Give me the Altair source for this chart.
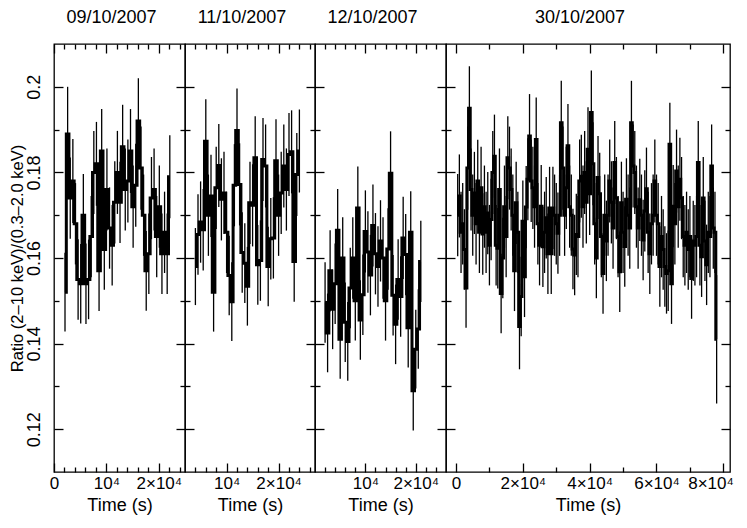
import altair as alt
import pandas as pd

FONT = "Liberation Sans"
FS = 18
FS_X = 17

panel_titles = ["09/10/2007", "11/10/2007", "12/10/2007", "30/10/2007"]
y_title = "Ratio (2\u201310 keV)/(0.3\u20132.0 keV)"
x_title = "Time (s)"

# bin start (s) and bin width (s) of each light curve
starts = [2100, 4000, 2000, 500]
bin_width = 500

vals1 = [0.152, 0.189, 0.174, 0.178, 0.168, 0.155, 0.154, 0.170, 0.154, 0.155,
         0.165, 0.180, 0.182, 0.157, 0.185, 0.162, 0.176, 0.167, 0.163, 0.173,
         0.180, 0.173, 0.186, 0.176, 0.178, 0.185, 0.172, 0.177, 0.192, 0.181,
         0.170, 0.157, 0.161, 0.174, 0.176, 0.165, 0.172, 0.161, 0.166, 0.161,
         0.179]
errs1 = [0.0092, 0.011, 0.0095, 0.0098, 0.0095, 0.0094, 0.0093, 0.0096, 0.0094, 0.0093,
         0.0095, 0.0097, 0.0098, 0.0094, 0.0098, 0.0094, 0.0096, 0.0095, 0.0094, 0.0096,
         0.0097, 0.0095, 0.0098, 0.0096, 0.0097, 0.0098, 0.0096, 0.0097, 0.0100, 0.0097,
         0.0095, 0.0093, 0.0094, 0.0096, 0.0096, 0.0095, 0.0096, 0.0094, 0.0095, 0.0094,
         0.0097]

vals2 = [0.158, 0.1655, 0.1684, 0.1666, 0.1873, 0.170, 0.1745, 0.152, 0.1764, 0.1816,
         0.1737, 0.1752, 0.166, 0.1559, 0.1498, 0.177, 0.1898, 0.1772, 0.1613, 0.1588,
         0.1534, 0.1729, 0.1723, 0.1834, 0.1584, 0.1594, 0.183, 0.1815, 0.158, 0.1645,
         0.1647, 0.1827, 0.170, 0.1752, 0.1815, 0.176, 0.1842, 0.1848, 0.1592, 0.1795,
         0.185]
errs2 = [0.0090, 0.0094, 0.0095, 0.0095, 0.0098, 0.0095, 0.0096, 0.0092, 0.0096, 0.0097,
         0.0096, 0.0096, 0.0095, 0.0093, 0.0092, 0.0096, 0.0098, 0.0096, 0.0094, 0.0093,
         0.0092, 0.0096, 0.0096, 0.0097, 0.0093, 0.0094, 0.0097, 0.0097, 0.0093, 0.0095,
         0.0095, 0.0097, 0.0095, 0.0096, 0.0097, 0.0096, 0.0097, 0.0097, 0.0094, 0.0097,
         0.0097]

vals3 = [0.1496, 0.1425, 0.157, 0.148, 0.154, 0.1665, 0.141, 0.160, 0.145, 0.1405,
         0.153, 0.160, 0.150, 0.1717, 0.1455, 0.1514, 0.1662, 0.1614, 0.156, 0.1676,
         0.161, 0.158, 0.164, 0.160, 0.150, 0.1621, 0.1798, 0.1513, 0.1445, 0.155,
         0.151, 0.1647, 0.1608, 0.1437, 0.166, 0.129, 0.1387, 0.1434, 0.1592]
errs3 = [0.0094, 0.0092, 0.0095, 0.0093, 0.0094, 0.0096, 0.0092, 0.0095, 0.0093, 0.0092,
         0.0094, 0.0095, 0.0093, 0.0097, 0.0093, 0.0094, 0.0096, 0.0095, 0.0094, 0.0096,
         0.0095, 0.0094, 0.0095, 0.0095, 0.0093, 0.0095, 0.0098, 0.0094, 0.0093, 0.0094,
         0.0094, 0.0096, 0.0095, 0.0093, 0.0096, 0.0093, 0.0092, 0.0093, 0.0095]

vals4 = [0.170, 0.1745, 0.166, 0.168, 0.162, 0.153, 0.181, 0.195, 0.176, 0.170,
         0.1752, 0.168, 0.178, 0.166, 0.1764, 0.1656, 0.172, 0.166, 0.1705, 0.163,
         0.169, 0.180, 0.1838, 0.163, 0.1623, 0.176, 0.1517, 0.160, 0.172, 0.165,
         0.1834, 0.181, 0.176, 0.170, 0.157, 0.1729, 0.166, 0.144, 0.151, 0.1686,
         0.1556, 0.1719, 0.1784, 0.1885, 0.178, 0.1764, 0.172, 0.1877, 0.168, 0.163,
         0.1721, 0.1626, 0.166, 0.1694, 0.161, 0.1717, 0.161, 0.1717, 0.170, 0.168,
         0.1658, 0.170, 0.1916, 0.181, 0.170, 0.1764, 0.1862, 0.172, 0.170, 0.1621,
         0.1607, 0.1655, 0.165, 0.178, 0.1791, 0.172, 0.180, 0.173, 0.1854, 0.175,
         0.194, 0.182, 0.168, 0.160, 0.1788, 0.175, 0.165, 0.1564, 0.170, 0.164,
         0.170, 0.178, 0.173, 0.167, 0.1823, 0.174, 0.165, 0.1568, 0.1729, 0.166,
         0.1627, 0.1737, 0.170, 0.167, 0.1916, 0.1815, 0.180, 0.172, 0.167, 0.1736,
         0.170, 0.1642, 0.171, 0.1762, 0.166, 0.161, 0.168, 0.170, 0.178, 0.170,
         0.168, 0.158, 0.165, 0.162, 0.158, 0.1564, 0.157, 0.1866, 0.154, 0.1721,
         0.168, 0.1803, 0.172, 0.1784, 0.174, 0.165, 0.163, 0.166, 0.162, 0.165,
         0.1552, 0.164, 0.163, 0.165, 0.1823, 0.163, 0.1603, 0.174, 0.164, 0.1584,
         0.166, 0.165, 0.1815, 0.167, 0.166, 0.141]
errs4 = [0.0096, 0.0097, 0.0095, 0.0095, 0.0094, 0.0093, 0.0097, 0.0098, 0.0096, 0.0095,
         0.0096, 0.0095, 0.0096, 0.0095, 0.0096, 0.0095, 0.0096, 0.0095, 0.0096, 0.0094,
         0.0095, 0.0097, 0.0097, 0.0094, 0.0094, 0.0096, 0.0093, 0.0094, 0.0096, 0.0095,
         0.0097, 0.0097, 0.0096, 0.0095, 0.0094, 0.0096, 0.0095, 0.0100, 0.0093, 0.0095,
         0.0094, 0.0096, 0.0096, 0.0098, 0.0096, 0.0096, 0.0096, 0.0098, 0.0095, 0.0094,
         0.0096, 0.0094, 0.0095, 0.0095, 0.0094, 0.0096, 0.0094, 0.0096, 0.0095, 0.0095,
         0.0095, 0.0095, 0.0098, 0.0097, 0.0095, 0.0096, 0.0098, 0.0096, 0.0095, 0.0094,
         0.0094, 0.0095, 0.0095, 0.0097, 0.0097, 0.0096, 0.0097, 0.0096, 0.0098, 0.0096,
         0.0098, 0.0097, 0.0095, 0.0094, 0.0097, 0.0096, 0.0095, 0.0094, 0.0095, 0.0094,
         0.0095, 0.0097, 0.0096, 0.0095, 0.0097, 0.0096, 0.0095, 0.0094, 0.0096, 0.0095,
         0.0094, 0.0096, 0.0095, 0.0095, 0.0098, 0.0097, 0.0097, 0.0096, 0.0095, 0.0096,
         0.0095, 0.0094, 0.0095, 0.0096, 0.0095, 0.0094, 0.0095, 0.0095, 0.0097, 0.0095,
         0.0095, 0.0094, 0.0095, 0.0094, 0.0094, 0.0094, 0.0094, 0.0097, 0.0094, 0.0096,
         0.0095, 0.0097, 0.0096, 0.0097, 0.0096, 0.0095, 0.0094, 0.0095, 0.0094, 0.0095,
         0.0094, 0.0094, 0.0094, 0.0095, 0.0097, 0.0094, 0.0094, 0.0096, 0.0094, 0.0094,
         0.0095, 0.0095, 0.0097, 0.0095, 0.0095, 0.0150]

values = [vals1, vals2, vals3, vals4]
errors = [errs1, errs2, errs3, errs4]

x_domains = [[0, 25000], [2000, 27000], [0, 26000], [-3000, 82000]]
x_major = [[0, 10000, 20000], [10000, 20000], [10000, 20000],
           [0, 20000, 40000, 60000, 80000]]
x_minor = [[2000, 4000, 6000, 8000, 12000, 14000, 16000, 18000, 22000, 24000],
           [4000, 6000, 8000, 12000, 14000, 16000, 18000, 22000, 24000, 26000],
           [2000, 4000, 6000, 8000, 12000, 14000, 16000, 18000, 22000, 24000],
           [10000, 30000, 50000, 70000]]
widths = [131, 130, 131, 284]
HEIGHT = 428

y_domain = [0.11, 0.21]
y_major = [0.12, 0.14, 0.16, 0.18, 0.2]
y_minor = [0.13, 0.15, 0.17, 0.19]

MAJ = 9
MIN = 5
TW = 1.3

label_expr = ("datum.value == 0 ? '0' : (datum.value == 10000 ? '10\u2074' : "
              "format(datum.value / 10000, 'd') + '\u00d710\u2074')")


def x_axis(orient, vals, size, labels=False, title=None, last_panel=False):
    kw = dict(orient=orient, values=vals, tickSize=size, offset=-size, domain=False,
              grid=False, labels=labels, tickColor="black", tickWidth=TW,
              minExtent=0)
    if labels:
        kw.update(labelExpr=label_expr, labelPadding=3,
                  labelOverlap=False, labelFontSize=FS_X, labelFont=FONT,
                  labelColor="black")
        if last_panel:
            kw.update(labelFlush=8, labelFlushOffset=10)
        else:
            kw.update(labelFlush=False)
    if title:
        kw.update(title=title, titleFontSize=FS, titleFont=FONT, titlePadding=5,
                  titleFontWeight="normal", titleColor="black")
    else:
        kw.update(title=None)
    return alt.Axis(**kw)


def y_axis(orient, vals, size, labels=False, title=None):
    kw = dict(orient=orient, values=vals, tickSize=size, offset=-size, domain=False,
              grid=False, labels=labels, tickColor="black", tickWidth=TW,
              minExtent=0)
    if labels:
        kw.update(format=".2~f", labelAngle=270, labelAlign="center",
                  labelBaseline="alphabetic", labelPadding=15, labelFontSize=FS,
                  labelFont=FONT, labelColor="black", labelOverlap=False,
                  labelFlush=False)
    if title:
        kw.update(title=title, titleFontSize=16.5, titleFont=FONT, titlePadding=0,
                  titleFontWeight="normal", titleColor="black")
    else:
        kw.update(title=None)
    return alt.Axis(**kw)


panels = []
for k in range(4):
    times = [starts[k] + bin_width * i for i in range(len(values[k]))]
    df = pd.DataFrame({
        "t": times,
        "v": values[k],
        "lo": [v - e for v, e in zip(values[k], errors[k])],
        "hi": [v + e for v, e in zip(values[k], errors[k])],
    })
    xs = alt.Scale(domain=x_domains[k], nice=False, zero=False)
    ys = alt.Scale(domain=y_domain, nice=False, zero=False)
    first = k == 0
    last = k == 3
    base = alt.Chart(df)
    bars = base.mark_rule(color="black", strokeWidth=1.3).encode(
        x=alt.X("t:Q", scale=xs,
                axis=x_axis("bottom", x_major[k], MAJ, True, x_title, last)),
        y=alt.Y("lo:Q", scale=ys,
                axis=y_axis("left", y_major, MAJ, first, y_title if first else None)),
        y2="hi:Q",
    )
    steps = base.mark_line(color="black", strokeWidth=3, interpolate="step").encode(
        x=alt.X("t:Q", scale=xs, axis=x_axis("bottom", x_minor[k], MIN)),
        y=alt.Y("v:Q", scale=ys, axis=y_axis("left", y_minor, MIN)),
    )
    top_major = base.mark_line(opacity=0).encode(
        x=alt.X("t:Q", scale=xs, axis=x_axis("top", x_major[k], MAJ)),
        y=alt.Y("v:Q", scale=ys, axis=y_axis("right", y_major, MAJ)),
    )
    top_minor = base.mark_line(opacity=0).encode(
        x=alt.X("t:Q", scale=xs, axis=x_axis("top", x_minor[k], MIN)),
        y=alt.Y("v:Q", scale=ys, axis=y_axis("right", y_minor, MIN)),
    )
    p = alt.layer(bars, steps, top_major, top_minor).resolve_axis(
        x="independent", y="independent"
    ).properties(
        width=widths[k], height=HEIGHT,
        title=alt.TitleParams(text=panel_titles[k], fontSize=FS, font=FONT,
                              fontWeight="normal", color="black", anchor="middle",
                              dx=-8, offset=16),
    )
    panels.append(p)

chart = alt.hconcat(*panels, spacing=0, bounds="flush", padding=0,
                    background="white").configure_view(
    stroke="black", strokeWidth=1.3
)

chart.save("out.html", embed_options={"renderer": "svg", "actions": False})
